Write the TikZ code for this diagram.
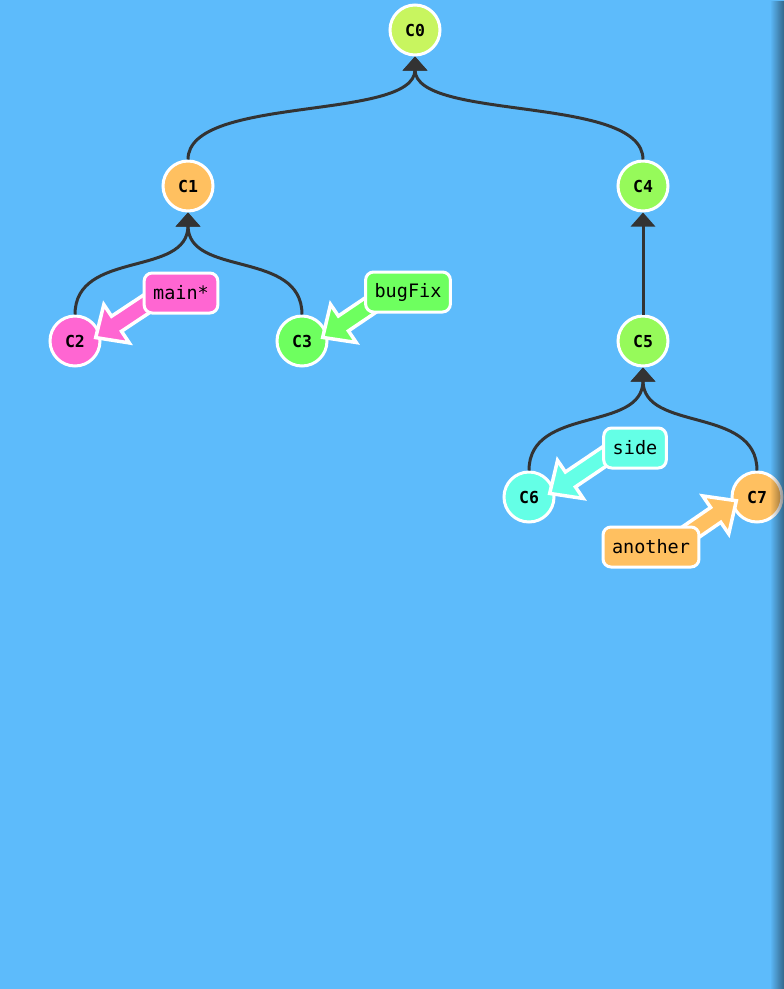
\documentclass[tikz,border=0pt]{standalone}
\usepackage{fontspec}
\setmonofont{DejaVu Sans Mono}
\usetikzlibrary{arrows.meta,calc,fadings}

\definecolor{canvasblue}{RGB}{93,187,251}
\definecolor{linkgray}{RGB}{51,51,51}
\definecolor{rootgreen}{RGB}{200,245,95}
\definecolor{leafgreen}{RGB}{150,250,90}
\definecolor{fixgreen}{RGB}{110,255,95}
\definecolor{peach}{RGB}{255,192,96}
\definecolor{pink}{RGB}{255,102,210}
\definecolor{aqua}{RGB}{100,255,230}

\pgfdeclarelayer{background}
\pgfdeclarelayer{foreground}
\pgfsetlayers{background,main,foreground}

\tikzfading[name=edgefade, left color=transparent!100, right color=transparent!0]

\tikzset{
  commit/.style={circle, draw=white, line width=3pt, minimum size=50pt, inner sep=0pt,
     font=\ttfamily\bfseries\fontsize{16.5}{19}\selectfont},
  branch/.style={rectangle, rounded corners=8pt, draw=white, line width=3pt,
     minimum height=40pt, inner xsep=9pt, font=\ttfamily\fontsize{18.5}{22}\selectfont},
  parent_link/.style={draw=linkgray, line width=3pt, -{Triangle[length=14pt,width=24pt]}},
  pics/ref_arrow/.style args={#1,#2,#3}{
     code={
        \coordinate (tip) at ($(#2.center)!21pt!-15:(#1.center)$);
        \coordinate (aim) at ($(tip)!1!6:(#1.center)$);
        \coordinate (base) at ($(tip)!25pt!(aim)$);
        \filldraw[fill=#3, draw=white, line width=3.5pt]
          (tip) -- ($(base)!23pt!90:(aim)$) -- ($(base)!9pt!90:(aim)$)
          -- ($(aim)!9pt!-90:(tip)$) -- ($(aim)!9pt!90:(tip)$)
          -- ($(base)!9pt!-90:(aim)$) -- ($(base)!23pt!-90:(aim)$) -- cycle;
     }
  }
}

\begin{document}
\begin{tikzpicture}[x=1pt, y=-1pt]
            \begin{pgfonlayer}{background}
              \fill[canvasblue] (0,0) rectangle (784,989);
            \end{pgfonlayer}
            \node[commit, fill=rootgreen] (C0) at (415,30) {C0};
            \node[commit, fill=peach] (C1) at (188,186) {C1};
            \node[commit, fill=leafgreen] (C4) at (643,186) {C4};
            \node[commit, fill=pink] (C2) at (75,341) {C2};
            \node[commit, fill=fixgreen] (C3) at (302,341) {C3};
            \node[commit, fill=leafgreen] (C5) at (643,341) {C5};
            \node[commit, fill=aqua] (C6) at (529,497) {C6};
            \node[commit, fill=peach] (C7) at (757,497) {C7};
            \draw[parent_link] (C1.north) .. controls +(0,-65) and +(0,65) .. (C0.south);
            \draw[parent_link] (C4.north) .. controls +(0,-65) and +(0,65) .. (C0.south);
            \draw[parent_link] (C2.north) .. controls +(0,-65) and +(0,65) .. (C1.south);
            \draw[parent_link] (C3.north) .. controls +(0,-65) and +(0,65) .. (C1.south);
            \draw[parent_link] (C5) -- (C4);
            \draw[parent_link] (C6.north) .. controls +(0,-65) and +(0,65) .. (C5.south);
            \draw[parent_link] (C7.north) .. controls +(0,-65) and +(0,65) .. (C5.south);
            \begin{pgfonlayer}{foreground}
              \node[branch, fill=pink] (main) at (181,293) {main*};
              \node[branch, fill=fixgreen] (bugFix) at (408,292) {bugFix};
              \node[branch, fill=aqua] (side) at (635,448) {side};
              \node[branch, fill=peach] (another) at (651,547) {another};
              \fill[black, opacity=0.45, path fading=edgefade] (770,0) rectangle (784,989);
            \end{pgfonlayer}
            \pic {ref_arrow={main,C2,pink}};
            \pic {ref_arrow={bugFix,C3,fixgreen}};
            \pic {ref_arrow={side,C6,aqua}};
            \pic {ref_arrow={another,C7,peach}};
        \end{tikzpicture}
\end{document}
